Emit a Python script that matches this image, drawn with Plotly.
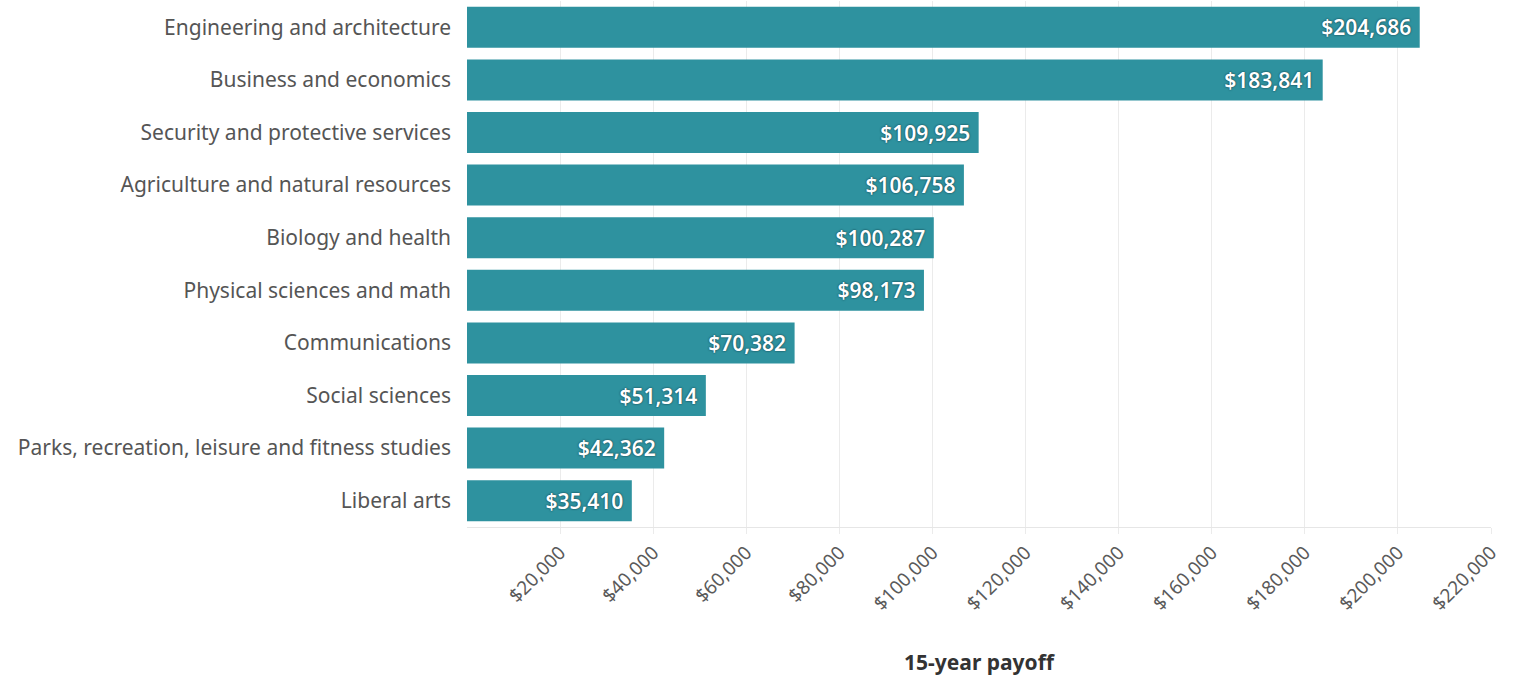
import plotly.graph_objects as go

# Fields of study and their 15-year payoff (USD)
fields = [
    "Engineering and architecture",
    "Business and economics",
    "Security and protective services",
    "Agriculture and natural resources",
    "Biology and health",
    "Physical sciences and math",
    "Communications",
    "Social sciences",
    "Parks, recreation, leisure and fitness studies",
    "Liberal arts",
]
payoff = [204686, 183841, 109925, 106758, 100287, 98173, 70382, 51314, 42362, 35410]

tick_values = [20000, 40000, 60000, 80000, 100000, 120000, 140000, 160000, 180000, 200000, 220000]
tick_labels = ["${:,}".format(v) for v in tick_values]

bar_color = "#2e929f"
font_family = "Noto Sans, Open Sans, sans-serif"

fig = go.Figure(
    go.Bar(
        x=payoff,
        y=fields,
        orientation="h",
        marker=dict(color=bar_color, line=dict(width=0)),
        # trailing no-break space keeps the value off the bar's end
        text=["${:,}\u00a0".format(v) for v in payoff],
        textposition="inside",
        insidetextanchor="end",
        textangle=0,
        textfont=dict(
            family=font_family,
            size=21,
            color="white",
            weight=600,
            shadow="0px 0px 2px #0c2a33",
        ),
        cliponaxis=False,
    )
)

fig.update_layout(
    width=1514,
    height=680,
    margin=dict(l=467, r=23, t=1, b=153),
    paper_bgcolor="white",
    plot_bgcolor="white",
    bargap=0.22,
    showlegend=False,
    font=dict(family=font_family, color="#555555"),
    xaxis=dict(
        range=[0, 220000],
        tickvals=tick_values,
        ticktext=tick_labels,
        tickangle=-45,
        tickfont=dict(size=19, color="#5a5a5a"),
        showgrid=True,
        gridcolor="#ebebeb",
        gridwidth=1,
        zeroline=False,
        showline=True,
        linecolor="#e6e6e6",
        linewidth=1,
        ticks="outside",
        ticklen=6,
        tickcolor="#ebebeb",
        title=dict(
            text="<b>15-year payoff</b>",
            font=dict(size=21, color="#333333"),
            standoff=40,
        ),
        fixedrange=True,
    ),
    yaxis=dict(
        autorange="reversed",
        tickfont=dict(size=21, color="#555555"),
        ticks="",
        ticklabelstandoff=15,
        showgrid=False,
        showline=False,
        fixedrange=True,
    ),
)

fig.write_html("out.html")
